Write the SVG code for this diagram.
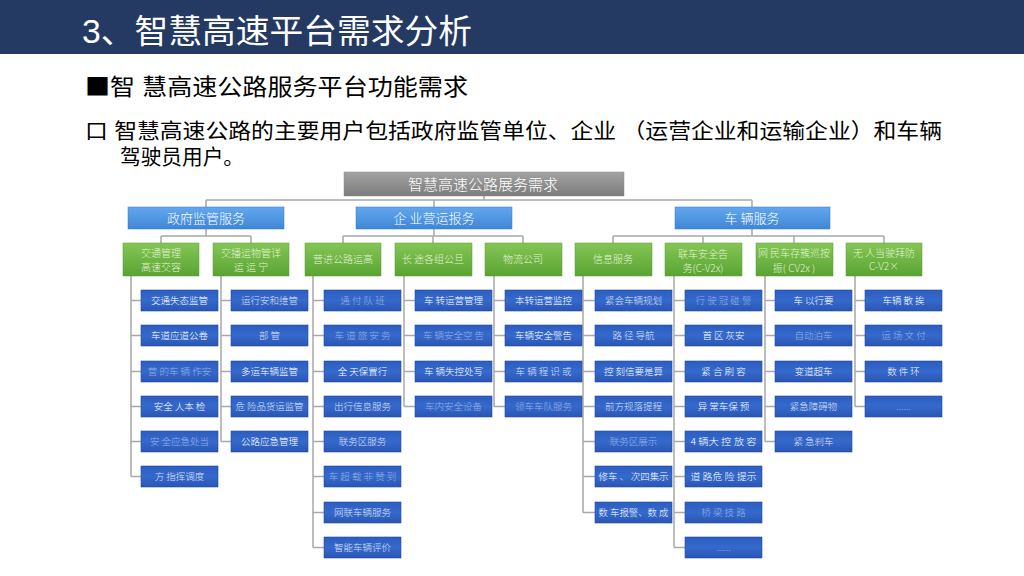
<svg xmlns="http://www.w3.org/2000/svg" width="1024" height="576" viewBox="0 0 1024 576">
<defs>
<linearGradient id="gGray" x1="0" y1="0" x2="0" y2="1"><stop offset="0" stop-color="#a3a3a3"/><stop offset="1" stop-color="#7c7c7c"/></linearGradient>
<linearGradient id="gL2" x1="0" y1="0" x2="0" y2="1"><stop offset="0" stop-color="#62a8ee"/><stop offset="1" stop-color="#3f86d8"/></linearGradient>
<linearGradient id="gGreen" x1="0" y1="0" x2="0" y2="1"><stop offset="0" stop-color="#84c655"/><stop offset="1" stop-color="#5aa434"/></linearGradient>
<linearGradient id="gB4" x1="0" y1="0" x2="0" y2="1"><stop offset="0" stop-color="#2c5ec0"/><stop offset="0.5" stop-color="#3569cc"/><stop offset="1" stop-color="#2a56b4"/></linearGradient>
</defs>
<style>
.hdr{font-family:"Liberation Sans","Noto Sans CJK SC",sans-serif;fill:#ffffff}
.txt{font-family:"Liberation Sans","Noto Sans CJK SC",sans-serif;fill:#000000}
.top{fill:url(#gGray);stroke:#8a8a8a;stroke-width:0.5}
.l2{fill:url(#gL2);stroke:#3a78c4;stroke-width:0.5}
.gr{fill:url(#gGreen);stroke:#5a9a36;stroke-width:0.5}
.b4{fill:url(#gB4);stroke:#244c9e;stroke-width:0.6}
.tt{font-family:"Noto Sans CJK SC",sans-serif;font-weight:300;fill:#ffffff;text-anchor:middle}
.t4{font-family:"Noto Sans CJK SC",sans-serif;font-weight:300;font-size:9.5px;fill:#ffffff;text-anchor:middle}
.tg{font-family:"Noto Sans CJK SC",sans-serif;font-weight:300;font-size:10px;fill:#e2f3d2;text-anchor:middle}
.f{opacity:0.45}
.m{opacity:0.8}
.ln{fill:none;stroke:#a8a8a8;stroke-width:1.5}
</style>
<rect x="0" y="0" width="1024" height="576" fill="#ffffff"/>
<rect x="0" y="0" width="1024" height="54" fill="#243a63"/>
<text class="hdr" x="82" y="43" font-size="33" textLength="390" lengthAdjust="spacingAndGlyphs">3、智慧高速平台需求分析</text>
<text class="txt" x="85" y="95" font-size="23" textLength="383" lengthAdjust="spacingAndGlyphs"><tspan font-family="Noto Sans CJK SC">■</tspan>智 慧高速公路服务平台功能需求</text>
<text class="txt" x="85" y="138" font-size="21" textLength="857" lengthAdjust="spacingAndGlyphs">口  智慧高速公路的主要用户包括政府监管单位、企业 （运营企业和运输企业）和车辆</text>
<text class="txt" x="120" y="164" font-size="21" textLength="124" lengthAdjust="spacingAndGlyphs">驾驶员用户。</text>

<g id="connectors">
<path class="ln" d="M484 196V200M206 200H752M206 200V207M434 200V207M752 200V207"/>
<path class="ln" d="M206 229V236M161 236H251M161 236V243M251 236V243M434 229V236M343 236H523M343 236V243M433 236V243M523 236V243M752 229V236M613 236H884M613 236V243M703 236V243M794 236V243M884 236V243"/>
<path class="ln" d="M131 276V476.5M131 300.5H141M131 335.5H141M131 371.5H141M131 406.5H141M131 441.5H141M131 476.5H141"/>
<path class="ln" d="M221 276V441.5M221 300.5H231M221 335.5H231M221 371.5H231M221 406.5H231M221 441.5H231"/>
<path class="ln" d="M313 276V547.5M313 300.5H324M313 335.5H324M313 371.5H324M313 406.5H324M313 441.5H324M313 476.5H324M313 512.5H324M313 547.5H324"/>
<path class="ln" d="M404 276V406.5M404 300.5H415M404 335.5H415M404 371.5H415M404 406.5H415"/>
<path class="ln" d="M494 276V406.5M494 300.5H505M494 335.5H505M494 371.5H505M494 406.5H505"/>
<path class="ln" d="M583 276V512.5M583 300.5H595M583 335.5H595M583 371.5H595M583 406.5H595M583 441.5H595M583 476.5H595M583 512.5H595"/>
<path class="ln" d="M674 276V547.5M674 300.5H685M674 335.5H685M674 371.5H685M674 406.5H685M674 441.5H685M674 476.5H685M674 512.5H685M674 547.5H685"/>
<path class="ln" d="M765 276V441.5M765 300.5H775M765 335.5H775M765 371.5H775M765 406.5H775M765 441.5H775"/>
<path class="ln" d="M855 276V406.5M855 300.5H865M855 335.5H865M855 371.5H865M855 406.5H865"/>
</g>

<g id="root"><rect class="top" x="344" y="172" width="280" height="24"/><text class="tt" x="483" y="190" font-size="15">智慧高速公路展务需求</text></g>

<g id="gov"><rect class="l2" x="128" y="207" width="156" height="22"/><text class="tt" x="206" y="223" font-size="13">政府监管服务</text></g>
<g id="ent"><rect class="l2" x="356" y="207" width="156" height="22"/><text class="tt" x="434" y="223" font-size="13">企 业营运报务</text></g>
<g id="veh"><rect class="l2" x="675" y="207" width="155" height="22"/><text class="tt" x="752" y="223" font-size="13">车 辆服务</text></g>

<g id="g1"><rect class="gr" x="123" y="243" width="76" height="33"/><text class="tg" x="161" y="257">交通管理</text><text class="tg" x="161" y="271" font-size="12">高速交容</text></g>
<g id="g2"><rect class="gr" x="213" y="243" width="76" height="33"/><text class="tg" x="251" y="257" font-size="9">交播运物管详</text><text class="tg" x="251" y="271">运  运  宁</text></g>
<g id="g3"><rect class="gr" x="305" y="243" width="76" height="33"/><text class="tg" x="343" y="263" fill="#ffffff">营进公路运高</text></g>
<g id="g4"><rect class="gr" x="395" y="243" width="77" height="33"/><text class="tg" x="433" y="263">长 途各组公旦</text></g>
<g id="g5"><rect class="gr" x="485" y="243" width="77" height="33"/><text class="tg" x="523" y="263">物流公司</text></g>
<g id="g6"><rect class="gr" x="575" y="243" width="77" height="33"/><text class="tg" x="613" y="263" font-size="9">信息服务</text></g>
<g id="g7"><rect class="gr" x="665" y="243" width="77" height="33"/><text class="tg" x="703" y="258" font-size="12">联车安全告</text><text class="tg" x="703" y="272" font-size="9">务(C-V2x)</text></g>
<g id="g8"><rect class="gr" x="756" y="243" width="77" height="33"/><text class="tg" x="794" y="257" font-size="9">网 民车存簇巡按</text><text class="tg" x="794" y="272" font-size="11">振( CV2x )</text></g>
<g id="g9"><rect class="gr" x="846" y="243" width="76" height="33"/><text class="tg" x="884" y="257" font-size="9">无 人当驶拜防</text><text class="tg" x="884" y="270" font-size="9">C-V2×</text></g>

<g id="c1r1"><rect class="b4" x="141" y="290" width="77" height="21"/><text class="t4" x="179.5" y="304">交通失态监管</text></g>
<g id="c1r2"><rect class="b4" x="141" y="325" width="77" height="21"/><text class="t4" x="179.5" y="339">车道应道公卷</text></g>
<g id="c1r3"><rect class="b4" x="141" y="361" width="77" height="21"/><text class="t4 f" x="179.5" y="375" font-size="8">营 的车 辆 作安</text></g>
<g id="c1r4"><rect class="b4" x="141" y="396" width="77" height="21"/><text class="t4" x="179.5" y="410">安全  人本 检</text></g>
<g id="c1r5"><rect class="b4" x="141" y="431" width="77" height="21"/><text class="t4 f" x="179.5" y="445">安 全应急处当</text></g>
<g id="c1r6"><rect class="b4" x="141" y="466" width="77" height="21"/><text class="t4 m" x="179.5" y="480">方 指挥调度</text></g>

<g id="c2r1"><rect class="b4" x="231" y="290" width="77" height="21"/><text class="t4 m" x="269.5" y="304">运行安和维管</text></g>
<g id="c2r2"><rect class="b4" x="231" y="325" width="77" height="21"/><text class="t4 m" x="269.5" y="339">部    管</text></g>
<g id="c2r3"><rect class="b4" x="231" y="361" width="77" height="21"/><text class="t4" x="269.5" y="375">多运车辆监管</text></g>
<g id="c2r4"><rect class="b4" x="231" y="396" width="77" height="21"/><text class="t4 m" x="269.5" y="410" textLength="68" lengthAdjust="spacingAndGlyphs">危 险品货运监管</text></g>
<g id="c2r5"><rect class="b4" x="231" y="431" width="77" height="21"/><text class="t4" x="269.5" y="445">公路应急管理</text></g>

<g id="c3r1"><rect class="b4" x="324" y="290" width="77" height="21"/><text class="t4 f" x="362.5" y="304" font-size="8">通  付  队  班</text></g>
<g id="c3r2"><rect class="b4" x="324" y="325" width="77" height="21"/><text class="t4 f" x="362.5" y="339" font-size="8">车 道 旅 安 务</text></g>
<g id="c3r3"><rect class="b4" x="324" y="361" width="77" height="21"/><text class="t4" x="362.5" y="375">全 天保置行</text></g>
<g id="c3r4"><rect class="b4" x="324" y="396" width="77" height="21"/><text class="t4 m" x="362.5" y="410">出行信息服务</text></g>
<g id="c3r5"><rect class="b4" x="324" y="431" width="77" height="21"/><text class="t4 m" x="362.5" y="445">联务区服务</text></g>
<g id="c3r6"><rect class="b4" x="324" y="466" width="77" height="21"/><text class="t4 f" x="362.5" y="480" font-size="7">车  超 载 非 赞 到</text></g>
<g id="c3r7"><rect class="b4" x="324" y="502" width="77" height="21"/><text class="t4 m" x="362.5" y="516">网联车辆服务</text></g>
<g id="c3r8"><rect class="b4" x="324" y="537" width="77" height="21"/><text class="t4 m" x="362.5" y="551">智能车辆评价</text></g>

<g id="c4r1"><rect class="b4" x="415" y="290" width="77" height="21"/><text class="t4" x="453.5" y="304">车 转运营管理</text></g>
<g id="c4r2"><rect class="b4" x="415" y="325" width="77" height="21"/><text class="t4 f" x="453.5" y="339" font-size="9">车 辆安全空 告</text></g>
<g id="c4r3"><rect class="b4" x="415" y="361" width="77" height="21"/><text class="t4" x="453.5" y="375">车 辆失控处写</text></g>
<g id="c4r4"><rect class="b4" x="415" y="396" width="77" height="21"/><text class="t4 f" x="453.5" y="410">车内安全设备</text></g>

<g id="c5r1"><rect class="b4" x="505" y="290" width="77" height="21"/><text class="t4" x="543.5" y="304">本转运营监控</text></g>
<g id="c5r2"><rect class="b4" x="505" y="325" width="77" height="21"/><text class="t4" x="543.5" y="339">车辆安全警告</text></g>
<g id="c5r3"><rect class="b4" x="505" y="361" width="77" height="21"/><text class="t4 m" x="543.5" y="375">车 辆 程 识 或</text></g>
<g id="c5r4"><rect class="b4" x="505" y="396" width="77" height="21"/><text class="t4 f" x="543.5" y="410">领车车队服务</text></g>

<g id="c6r1"><rect class="b4" x="595" y="290" width="77" height="21"/><text class="t4 m" x="633.5" y="304">紧会车辆规划</text></g>
<g id="c6r2"><rect class="b4" x="595" y="325" width="77" height="21"/><text class="t4 m" x="633.5" y="339">路 径 导航</text></g>
<g id="c6r3"><rect class="b4" x="595" y="361" width="77" height="21"/><text class="t4" x="633.5" y="375">控 刻信要是算</text></g>
<g id="c6r4"><rect class="b4" x="595" y="396" width="77" height="21"/><text class="t4 m" x="633.5" y="410">前方规落提程</text></g>
<g id="c6r5"><rect class="b4" x="595" y="431" width="77" height="21"/><text class="t4 f" x="633.5" y="445">联务区展示</text></g>
<g id="c6r6"><rect class="b4" x="595" y="466" width="77" height="21"/><text class="t4" x="633.5" y="480" textLength="70" lengthAdjust="spacingAndGlyphs">修车 、 次四集示</text></g>
<g id="c6r7"><rect class="b4" x="595" y="502" width="77" height="21"/><text class="t4" x="633.5" y="516" textLength="70" lengthAdjust="spacingAndGlyphs">数 车报警、数 成</text></g>

<g id="c7r1"><rect class="b4" x="685" y="290" width="77" height="21"/><text class="t4 f" x="723.5" y="304" font-size="9">行 驶 冠 碰 警</text></g>
<g id="c7r2"><rect class="b4" x="685" y="325" width="77" height="21"/><text class="t4" x="723.5" y="339">首 区 灰安</text></g>
<g id="c7r3"><rect class="b4" x="685" y="361" width="77" height="21"/><text class="t4" x="723.5" y="375">紧 合 刷 容</text></g>
<g id="c7r4"><rect class="b4" x="685" y="396" width="77" height="21"/><text class="t4" x="723.5" y="410">异  常车保 预</text></g>
<g id="c7r5"><rect class="b4" x="685" y="431" width="77" height="21"/><text class="t4" x="723.5" y="445" textLength="66" lengthAdjust="spacingAndGlyphs">4 辆大 控 放 容</text></g>
<g id="c7r6"><rect class="b4" x="685" y="466" width="77" height="21"/><text class="t4" x="723.5" y="480" textLength="66" lengthAdjust="spacingAndGlyphs">道 路危 险 提示</text></g>
<g id="c7r7"><rect class="b4" x="685" y="502" width="77" height="21"/><text class="t4 f" x="723.5" y="516" font-size="8">桥  梁 技 路</text></g>
<g id="c7r8"><rect class="b4" x="685" y="537" width="77" height="21"/><text class="t4 f" x="723.5" y="551" font-size="8">......</text></g>

<g id="c8r1"><rect class="b4" x="775" y="290" width="77" height="21"/><text class="t4" x="813.5" y="304">车 以行要</text></g>
<g id="c8r2"><rect class="b4" x="775" y="325" width="77" height="21"/><text class="t4 f" x="813.5" y="339">自动泊车</text></g>
<g id="c8r3"><rect class="b4" x="775" y="361" width="77" height="21"/><text class="t4" x="813.5" y="375">变道超车</text></g>
<g id="c8r4"><rect class="b4" x="775" y="396" width="77" height="21"/><text class="t4 m" x="813.5" y="410">紧急障碍物</text></g>
<g id="c8r5"><rect class="b4" x="775" y="431" width="77" height="21"/><text class="t4 m" x="813.5" y="445" font-size="9">紧 急刹车</text></g>

<g id="c9r1"><rect class="b4" x="865" y="290" width="77" height="21"/><text class="t4" x="903.5" y="304">车辆 散 挨</text></g>
<g id="c9r2"><rect class="b4" x="865" y="325" width="77" height="21"/><text class="t4 f" x="903.5" y="339">运 场 文 付</text></g>
<g id="c9r3"><rect class="b4" x="865" y="361" width="77" height="21"/><text class="t4" x="903.5" y="375">数    件  环</text></g>
<g id="c9r4"><rect class="b4" x="865" y="396" width="77" height="21"/><text class="t4 f" x="903.5" y="410" font-size="8">......</text></g>
</svg>
